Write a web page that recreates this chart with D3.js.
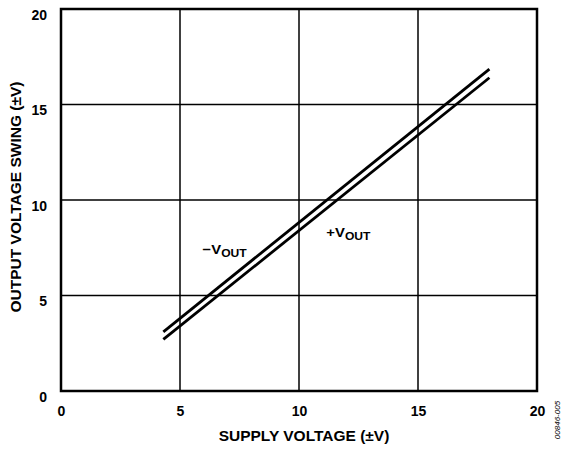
<!DOCTYPE html>
<html>
<head>
<meta charset="utf-8">
<script src="https://cdn.jsdelivr.net/npm/d3@7"></script>
<style>
  body { margin: 0; background: #fff; }
  text { font-family: "Liberation Sans", Arial, sans-serif; font-weight: bold; fill: #000; }
</style>
</head>
<body>
<div id="chart"></div>
<script>
// data
const supply = [4.3, 18.0];
const negVout = [3.1, 16.85];
const posVout = [2.7, 16.4];
const xTicks = [0, 5, 10, 15, 20];
const yTicks = [0, 5, 10, 15, 20];

const width = 561,
    height = 450;
const margin = { top: 9, right: 24, bottom: 59, left: 61 };
const plotW = width - margin.left - margin.right,
    plotH = height - margin.top - margin.bottom;

const svg = d3.select("#chart")
    .append("svg")
    .attr("width", width)
    .attr("height", height);

const g = svg.append("g")
    .attr("transform", `translate(${margin.left}, ${margin.top})`);

const x = d3.scaleLinear().domain([0, 20]).range([0, plotW]);
const y = d3.scaleLinear().domain([0, 20]).range([plotH, 0]);

// grid
g.selectAll(".vgrid")
    .data(xTicks.slice(1, -1))
    .join("line")
    .attr("x1", d => x(d)).attr("x2", d => x(d))
    .attr("y1", 0).attr("y2", plotH)
    .attr("stroke", "#000")
    .attr("stroke-width", 1.5);

g.selectAll(".hgrid")
    .data(yTicks.slice(1, -1))
    .join("line")
    .attr("x1", 0).attr("x2", plotW)
    .attr("y1", d => y(d)).attr("y2", d => y(d))
    .attr("stroke", "#000")
    .attr("stroke-width", 1.5);

// frame
g.append("rect")
    .attr("width", plotW)
    .attr("height", plotH)
    .attr("fill", "none")
    .attr("stroke", "#000")
    .attr("stroke-width", 2.5);

// axes (labels only)
const xAxis = g.append("g")
    .attr("transform", `translate(0, ${plotH})`)
    .call(d3.axisBottom(x).tickValues(xTicks).tickSize(0).tickPadding(15));
const yAxis = g.append("g")
    .call(d3.axisLeft(y).tickValues(yTicks).tickSize(0).tickPadding(14));
[xAxis, yAxis].forEach(a => {
    a.select(".domain").remove();
    a.selectAll("text")
        .style("font-family", "'Liberation Sans', Arial, sans-serif")
        .style("font-weight", "bold")
        .style("font-size", "14px")
        .attr("fill", "#000");
});
yAxis.selectAll("text").attr("dy", "0.72em");

// curves
const line = d3.line()
    .x(d => x(d[0]))
    .y(d => y(d[1]));

[negVout, posVout].forEach(series => {
    g.append("path")
        .datum(supply.map((s, i) => [s, series[i]]))
        .attr("d", line)
        .attr("fill", "none")
        .attr("stroke", "#000")
        .attr("stroke-width", 2.8);
});

// curve labels
function vLabel(sign, xv, yv) {
    const t = g.append("text")
        .attr("transform", `translate(${x(xv)}, ${y(yv)}) scale(1.1, 1)`)
        .style("font-size", "13.5px");
    t.append("tspan").text(sign + "V");
    t.append("tspan")
        .attr("dy", 3)
        .style("font-size", "11px")
        .text("OUT");
}
vLabel("\u2212", 5.95, 7.15);
vLabel("+", 11.15, 8.05);

// axis titles
svg.append("text")
    .attr("x", margin.left + plotW / 2 + 5)
    .attr("y", 441)
    .attr("text-anchor", "middle")
    .style("font-size", "15.5px")
    .text("SUPPLY VOLTAGE (\u00B1V)");

svg.append("text")
    .attr("transform", `translate(21, ${margin.top + plotH / 2 - 3}) rotate(-90)`)
    .attr("text-anchor", "middle")
    .style("font-size", "15.5px")
    .text("OUTPUT VOLTAGE SWING (\u00B1V)");

// figure code
svg.append("text")
    .attr("transform", "translate(560, 420) rotate(-90)")
    .attr("text-anchor", "middle")
    .style("font-size", "8px")
    .style("font-weight", "normal")
    .style("font-style", "italic")
    .attr("fill", "#333")
    .text("00846-005");
</script>
</body>
</html>
